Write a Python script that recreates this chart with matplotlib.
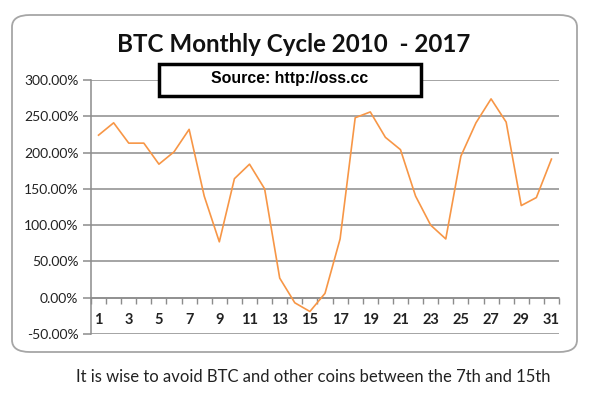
import matplotlib
matplotlib.use('Agg')
import matplotlib.pyplot as plt
from matplotlib.patches import FancyBboxPatch
from matplotlib.ticker import FixedLocator, FuncFormatter

# day of month vs average return
days = list(range(1, 32))
returns = [224, 241, 213, 213, 184, 201, 232, 140, 77, 164, 184, 150, 27, -7, -19,
           6, 81, 248, 256, 221, 204, 140, 100, 81, 195, 241, 274, 242, 127, 138, 191]
yticks = [-50, 0, 50, 100, 150, 200, 250, 300]

title = 'BTC Monthly Cycle 2010  - 2017'
source = 'Source: http://oss.cc'
footer = 'It is wise to avoid BTC and other coins between the 7th and 15th'

fig = plt.figure(figsize=(6, 3.97), dpi=100)
fig.patch.set_facecolor('white')

# rounded chart frame
frame = FancyBboxPatch((12 / 600, 1 - 352 / 397), 565 / 600, 337 / 397,
                       boxstyle='round,pad=0,rounding_size=0.03',
                       transform=fig.transFigure, facecolor='none',
                       edgecolor='#a6a6a6', linewidth=1.3, zorder=-1)
fig.patches.append(frame)

ax = fig.add_axes([91 / 600, 1 - 334 / 397, 468 / 600, 254 / 397])
ax.set_facecolor('none')
ax.plot(days, returns, color='#f79646', linewidth=1.2, zorder=3)

ax.set_xlim(0.5, 31.5)
ax.set_ylim(-50, 300)
ax.set_yticks(yticks)
ax.yaxis.set_major_formatter(FuncFormatter(lambda v, p: '%.2f%%' % v))
ax.grid(axis='y', color='#8c8c8c', linewidth=1.1)
ax.tick_params(axis='y', length=6, color='#8c8c8c', width=1.1, labelsize=10,
               labelcolor='#222222', pad=3)
for lbl in ax.get_yticklabels():
    lbl.set_family('Lato')

# category axis crossing at zero
ax.spines['bottom'].set_position(('data', 0))
ax.spines['bottom'].set_color('#8c8c8c')
ax.spines['bottom'].set_linewidth(1.1)
ax.spines['left'].set_color('#8c8c8c')
ax.spines['left'].set_linewidth(1.1)
ax.spines['top'].set_visible(False)
ax.spines['right'].set_visible(False)
ax.xaxis.set_major_locator(FixedLocator([d + 0.5 for d in range(0, 32)]))
ax.xaxis.set_major_formatter(FuncFormatter(lambda v, p: ''))
ax.xaxis.set_minor_locator(FixedLocator(days[::2]))
ax.xaxis.set_minor_formatter(FuncFormatter(lambda v, p: '%d' % v))
ax.tick_params(axis='x', which='major', length=4, color='#8c8c8c', width=1)
ax.tick_params(axis='x', which='minor', length=0, pad=11, labelsize=10.5,
               labelcolor='#222222')
for lbl in ax.get_xticklabels(minor=True):
    lbl.set_fontweight('bold')
    lbl.set_family('Lato')

fig.text(294 / 600, 1 - 44 / 397, title, ha='center', va='center',
         fontsize=17.4, fontweight='bold', family='Lato', color='#111111')
box = plt.Rectangle((159 / 600, 1 - 96 / 397), 262 / 600, 32 / 397,
                    transform=fig.transFigure, facecolor='white',
                    edgecolor='black', linewidth=2.5, zorder=4)
fig.patches.append(box)
fig.text(290 / 600, 1 - 79 / 397, source, ha='center', va='center',
         fontsize=11.4, fontweight='bold', family='Liberation Sans', zorder=5)

fig.text(313 / 600, 1 - 377 / 397, footer, ha='center', va='center',
         fontsize=12, family='Lato', color='#222222')

fig.savefig('out.png', dpi=100)
